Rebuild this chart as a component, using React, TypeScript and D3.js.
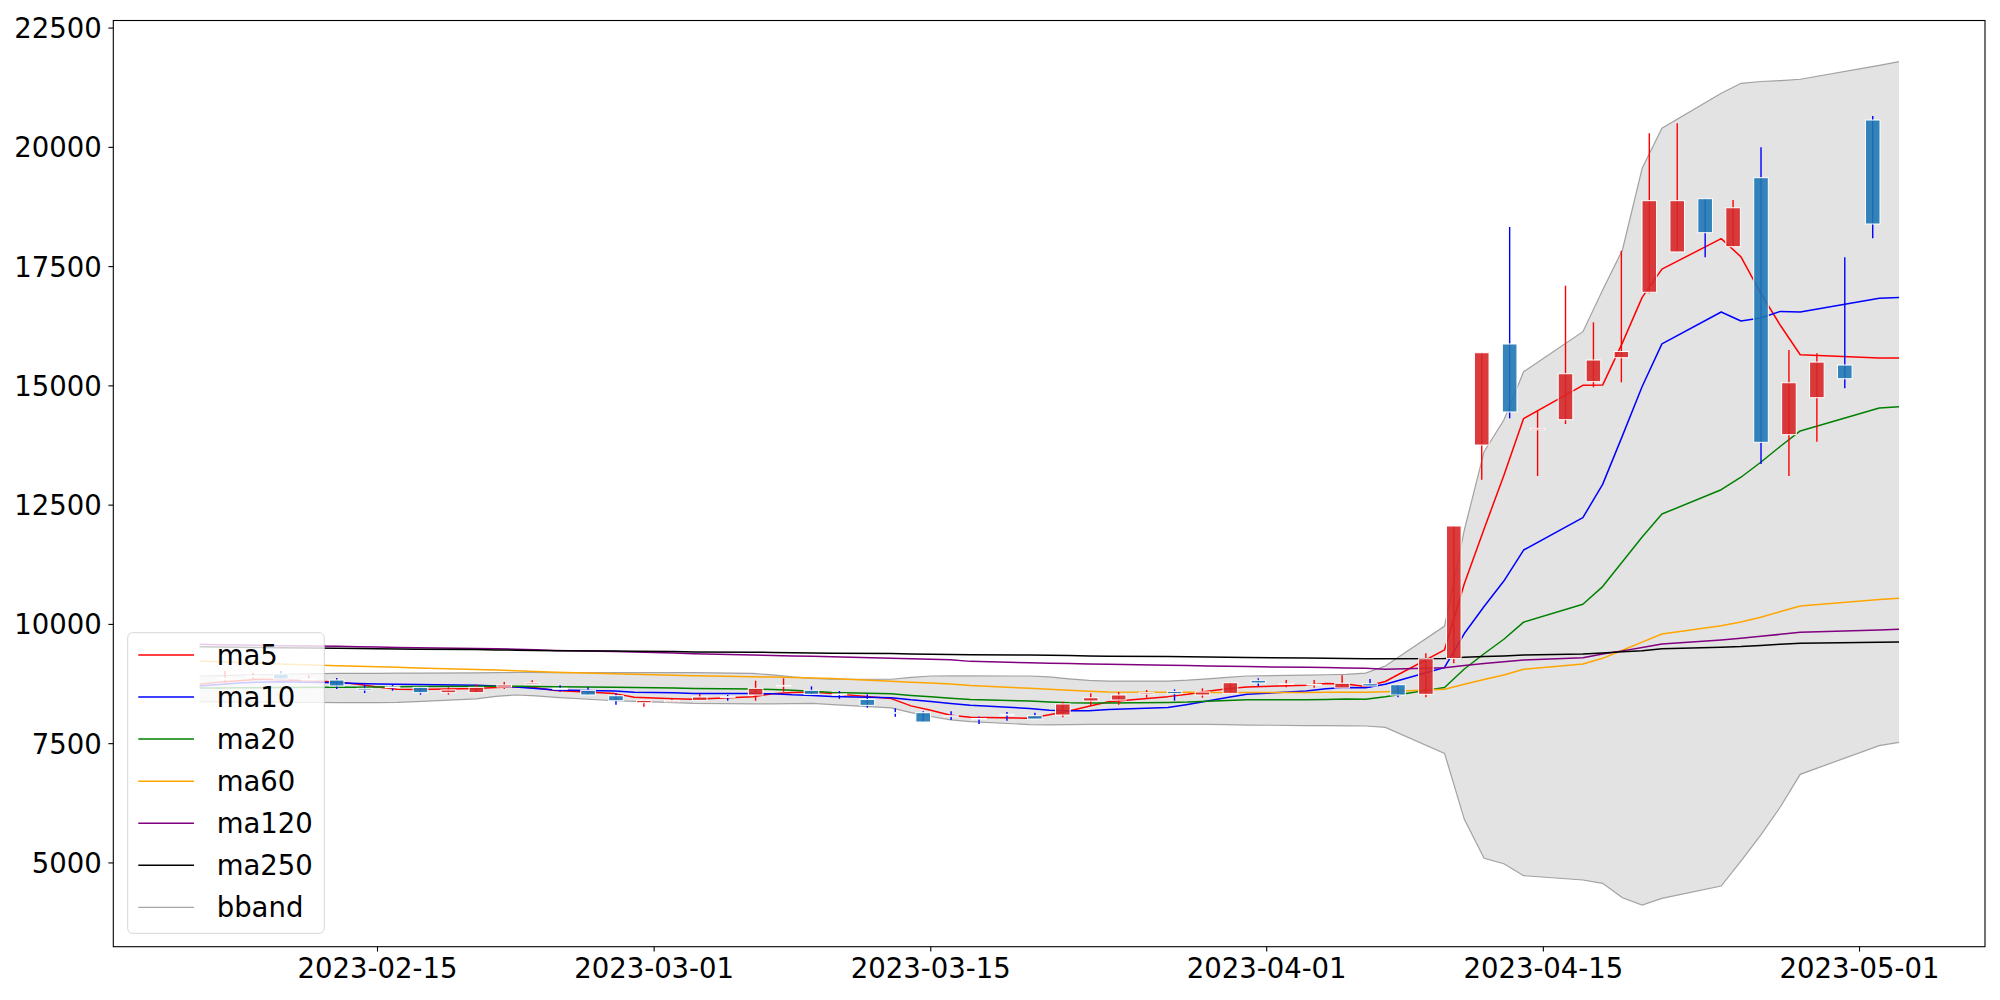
import React from 'react';
import * as d3 from 'd3';

// ---------- data ----------
const tradeDates = [
  '2023-02-06','2023-02-07','2023-02-08','2023-02-09','2023-02-10','2023-02-13','2023-02-14','2023-02-15','2023-02-16','2023-02-17',
  '2023-02-20','2023-02-21','2023-02-22','2023-02-23','2023-02-24','2023-02-27','2023-02-28','2023-03-02','2023-03-03','2023-03-06',
  '2023-03-07','2023-03-08','2023-03-09','2023-03-10','2023-03-13','2023-03-14','2023-03-15','2023-03-16','2023-03-17','2023-03-20',
  '2023-03-21','2023-03-22','2023-03-23','2023-03-24','2023-03-27','2023-03-28','2023-03-29','2023-03-30','2023-03-31','2023-04-03',
  '2023-04-04','2023-04-05','2023-04-06','2023-04-07','2023-04-10','2023-04-11','2023-04-12','2023-04-13','2023-04-14','2023-04-17',
  '2023-04-18','2023-04-19','2023-04-20','2023-04-21','2023-04-24','2023-04-25','2023-04-26','2023-04-27','2023-04-28','2023-05-02',
  '2023-05-03'
];

const candleOpen = [
  8850,8900,8960,8834,8834,8660,8690,8681,8569,8569,
  8688,8750,8660,8618,8505,8358,8379,8408,8485,8520,
  8705,8618,8540,8428,8150,8149,8085,8028,8113,8086,
  8100,8394,8415,8540,8597,8520,8555,8828,8745,8730,
  8667,8757,8736,8534,9287,13760,15878,14080,14291,15088,
  15590,16962,17807,18924,17917,19364,13977,14752,15437,20573
];
const candleHigh = [
  9029,8987,9023,8940,8876,8730,8730,8690,8681,8744,
  8792,8828,8723,8681,8555,8410,8450,8540,8520,8820,
  8870,8702,8604,8534,8240,8178,8178,8064,8166,8149,
  8379,8555,8583,8625,8639,8660,8790,8870,8835,8835,
  8933,8856,8736,9393,12063,15695,18330,14494,17100,16332,
  17833,20295,20504,18924,18896,20000,15752,15683,17694,20657
];
const candleLow = [
  8765,8849,8855,8800,8646,8562,8611,8527,8527,8569,
  8646,8750,8590,8520,8316,8274,8379,8408,8400,8400,
  8590,8534,8440,8254,8064,7954,7996,7911,7980,8016,
  8052,8310,8316,8463,8400,8463,8555,8709,8681,8674,
  8667,8674,8471,8471,9184,13030,14320,13110,14200,14970,
  15075,16940,17807,17694,17917,13362,13110,13830,14949,18094
];
const candleClose = [
  8870,8920,8855,8855,8709,8625,8675,8569,8625,8681,
  8730,8778,8640,8520,8400,8407,8407,8478,8470,8660,
  8720,8534,8528,8303,8140,7954,8072,8016,8100,8016,
  8332,8463,8520,8569,8548,8583,8778,8772,8755,8742,
  8765,8709,8520,9280,12063,15695,14453,14110,15255,15542,
  15720,18882,18882,18211,18734,13817,15066,15499,15150,18393
];

const ma5 = [
  8744,8790,8820,8850,8842,8793,8744,8687,8641,8635,
  8656,8677,8691,8670,8614,8549,8475,8442,8432,8484,
  8547,8572,8582,8549,8445,8292,8199,8097,8056,8032,
  8107,8185,8286,8380,8486,8537,8600,8650,8687,8726,
  8762,8749,8698,8803,9467,10853,12002,13120,14315,15011,
  15016,15902,16856,17447,18086,17705,16942,16265,15653,15585,
  15585
];
const ma10 = [
  8710,8740,8770,8790,8800,8775,8760,8750,8745,8739,
  8725,8711,8689,8656,8625,8603,8576,8567,8551,8549,
  8548,8524,8512,8491,8465,8420,8386,8340,8303,8239,
  8200,8192,8192,8218,8259,8322,8393,8468,8534,8606,
  8650,8675,8674,8745,9097,9808,10376,10909,11559,12239,
  12935,13952,14988,15881,16549,16361,16422,16561,16550,16836,
  16850
];
const ma20 = [
  8665,8668,8670,8672,8675,8680,8685,8690,8695,8700,
  8705,8705,8703,8700,8695,8685,8675,8665,8655,8644,
  8637,8618,8601,8574,8545,8512,8481,8454,8427,8394,
  8374,8358,8352,8355,8362,8371,8390,8404,8419,8423,
  8425,8434,8433,8482,8678,9065,9385,9689,10047,10423,
  10793,11314,11831,12313,12823,13085,13399,13735,14055,14538,
  14564
];
const ma60 = [
  9233,9215,9200,9185,9170,9135,9125,9110,9100,9088,
  9055,9045,9030,9015,8996,8965,8955,8935,8925,8904,
  8895,8885,8875,8865,8810,8790,8770,8750,8720,8660,
  8640,8620,8600,8585,8576,8576,8575,8575,8575,8575,
  8576,8577,8578,8590,8639,8745,8845,8939,9058,9170,
  9289,9459,9628,9798,9973,10050,10150,10270,10386,10520,
  10547
];
const ma120 = [
  9582,9575,9568,9561,9555,9540,9533,9527,9518,9510,
  9495,9488,9480,9470,9455,9430,9420,9400,9385,9358,
  9350,9340,9330,9320,9289,9280,9270,9260,9225,9195,
  9184,9178,9170,9163,9145,9138,9130,9122,9115,9100,
  9095,9088,9079,9060,9090,9140,9180,9215,9254,9302,
  9379,9445,9515,9589,9673,9710,9750,9792,9834,9885,
  9897
];
const ma250 = [
  9532,9526,9520,9514,9508,9502,9496,9490,9484,9478,
  9472,9466,9460,9454,9448,9442,9436,9430,9424,9418,
  9412,9406,9400,9394,9388,9382,9376,9370,9364,9358,
  9352,9346,9340,9334,9328,9322,9316,9310,9304,9298,
  9292,9287,9282,9278,9287,9310,9325,9340,9358,9379,
  9400,9425,9450,9490,9520,9535,9560,9585,9603,9625,
  9631
];
const bbUpper = [
  8918,8925,8935,8945,8955,8975,8975,8975,8978,8980,
  8985,8990,8992,8992,8990,8988,8988,8990,8990,8975,
  8940,8900,8870,8855,8850,8890,8918,8920,8920,8918,
  8900,8860,8825,8813,8813,8830,8860,8890,8918,8935,
  8945,8953,8980,9128,9966,11979,13620,14285,15297,16137,
  17010,17848,19561,20400,21133,21343,21380,21400,21427,21720,
  21796
];
const bbLower = [
  8379,8375,8372,8370,8368,8362,8360,8360,8365,8380,
  8440,8490,8520,8500,8470,8400,8385,8360,8345,8333,
  8335,8340,8345,8320,8250,8150,8070,8000,7960,7900,
  7893,7900,7905,7905,7905,7905,7905,7900,7890,7880,
  7877,7874,7870,7842,7297,5914,5096,4983,4732,4642,
  4572,4271,4118,4258,4516,5040,5585,6178,6857,7460,
  7528
];

const xTickDates = ['2023-02-15','2023-03-01','2023-03-15','2023-04-01','2023-04-15','2023-05-01'];
const yTickValues = [5000, 7500, 10000, 12500, 15000, 17500, 20000, 22500];

const maSeries = [
  { name: 'ma5', values: ma5, color: '#ff0000' },
  { name: 'ma10', values: ma10, color: '#0000ff' },
  { name: 'ma20', values: ma20, color: '#008000' },
  { name: 'ma60', values: ma60, color: '#ffa500' },
  { name: 'ma120', values: ma120, color: '#800080' },
  { name: 'ma250', values: ma250, color: '#000000' },
];

// axis extent and candle placement (dates)
const AXIS_START = '2023-02-01T15:07:00Z';
const AXIS_END = '2023-05-07T08:24:00Z';
const CANDLE_FIRST = '2023-02-07T06:46:00Z';
const CANDLE_LAST = '2023-05-01T16:02:00Z';
const Y_MIN = 3244;
const Y_MAX = 22659;

export default function App() {
  const W = 2000, H = 1000;
  const left = 113.3, right = 1985, top = 20.5, bottom = 946.7;
  const font = 'DejaVu Sans, sans-serif';
  const fs = 27.5;

  const parse = d3.utcParse('%Y-%m-%d');
  const dates = tradeDates.map((d) => parse(d) as Date);

  const x = d3.scaleUtc().domain([new Date(AXIS_START), new Date(AXIS_END)]).range([left, right]);
  const y = d3.scaleLinear().domain([Y_MIN, Y_MAX]).range([bottom, top]);
  const cx = d3.scaleLinear()
    .domain([0, candleOpen.length - 1])
    .range([x(new Date(CANDLE_FIRST)), x(new Date(CANDLE_LAST))]);

  const idx = d3.range(dates.length);
  const area = d3.area<number>().x((i) => x(dates[i])).y0((i) => y(bbLower[i])).y1((i) => y(bbUpper[i]));
  const upperLine = d3.line<number>().x((i) => x(dates[i])).y((i) => y(bbUpper[i]));
  const lowerLine = d3.line<number>().x((i) => x(dates[i])).y((i) => y(bbLower[i]));
  const maLine = (vals: number[]) => d3.line<number>().x((i) => x(dates[i])).y((i) => y(vals[i]))(idx) as string;

  const bodyW = 14.6;

  const legendItems = [
    ...maSeries.map((s) => ({ name: s.name, color: s.color, opacity: 1, width: 1.5 })),
    { name: 'bband', color: '#808080', opacity: 0.7, width: 1.2 },
  ];
  const legX = 127.7, legY = 632.7, legW = 196.6, legH = 300.6;
  const rowY0 = 655, rowStep = 42.05;

  return (
    <div style={{ position: 'absolute', left: 0, top: 0, width: W, height: H, background: '#fff' }}>
      <svg width={W} height={H} viewBox={`0 0 ${W} ${H}`} style={{ display: 'block' }}>
        <rect x={0} y={0} width={W} height={H} fill="#ffffff" />
        <defs>
          <clipPath id="plotclip">
            <rect x={left} y={top} width={right - left} height={bottom - top} />
          </clipPath>
        </defs>
        <g clipPath="url(#plotclip)">
          {/* bollinger band */}
          <path d={area(idx) as string} fill="#808080" fillOpacity={0.22} stroke="none" />
          <path d={upperLine(idx) as string} fill="none" stroke="#808080" strokeOpacity={0.7} strokeWidth={1.2} />
          <path d={lowerLine(idx) as string} fill="none" stroke="#808080" strokeOpacity={0.7} strokeWidth={1.2} />
          {/* moving averages */}
          {maSeries.map((s) => (
            <path key={s.name} d={maLine(s.values)} fill="none" stroke={s.color} strokeWidth={1.5} strokeLinejoin="round" />
          ))}
          {/* candles */}
          {candleOpen.map((o, i) => {
            const c = candleClose[i];
            const up = c >= o;
            const xc = cx(i);
            const yTop = y(Math.max(o, c));
            const yBot = y(Math.min(o, c));
            return (
              <g key={i}>
                <line x1={xc} x2={xc} y1={y(candleHigh[i])} y2={y(candleLow[i])} stroke={up ? '#ff0000' : '#0000ff'} strokeWidth={1.4} />
                <rect
                  x={xc - bodyW / 2}
                  y={yTop}
                  width={bodyW}
                  height={Math.max(yBot - yTop, 0.6)}
                  fill={up ? '#d62728' : '#1f77b4'}
                  fillOpacity={0.9}
                  stroke="#ffffff"
                  strokeWidth={1}
                />
              </g>
            );
          })}
        </g>

        {/* frame */}
        <rect x={left} y={top} width={right - left} height={bottom - top} fill="none" stroke="#000" strokeWidth={1.1} />

        {/* y axis */}
        {yTickValues.map((v) => (
          <g key={v}>
            <line x1={left - 4.9} x2={left} y1={y(v)} y2={y(v)} stroke="#000" strokeWidth={1.1} />
            <text x={left - 11.5} y={y(v) + 10} textAnchor="end" fontFamily={font} fontSize={fs} fill="#000">{v}</text>
          </g>
        ))}

        {/* x axis */}
        {xTickDates.map((d) => {
          const xv = x(parse(d) as Date);
          return (
            <g key={d}>
              <line x1={xv} x2={xv} y1={bottom} y2={bottom + 4.9} stroke="#000" strokeWidth={1.1} />
              <text x={xv} y={978.3} textAnchor="middle" fontFamily={font} fontSize={fs} fill="#000">{d}</text>
            </g>
          );
        })}

        {/* legend */}
        <rect x={legX} y={legY} width={legW} height={legH} rx={5} ry={5} fill="#ffffff" fillOpacity={0.8} stroke="#cccccc" strokeOpacity={0.8} strokeWidth={1} />
        {legendItems.map((it, k) => {
          const ry = rowY0 + k * rowStep;
          return (
            <g key={it.name}>
              <line x1={138.3} x2={194} y1={ry} y2={ry} stroke={it.color} strokeOpacity={it.opacity} strokeWidth={it.width} />
              <text x={216.7} y={ry + 10} fontFamily={font} fontSize={fs} fill="#000">{it.name}</text>
            </g>
          );
        })}
      </svg>
    </div>
  );
}
